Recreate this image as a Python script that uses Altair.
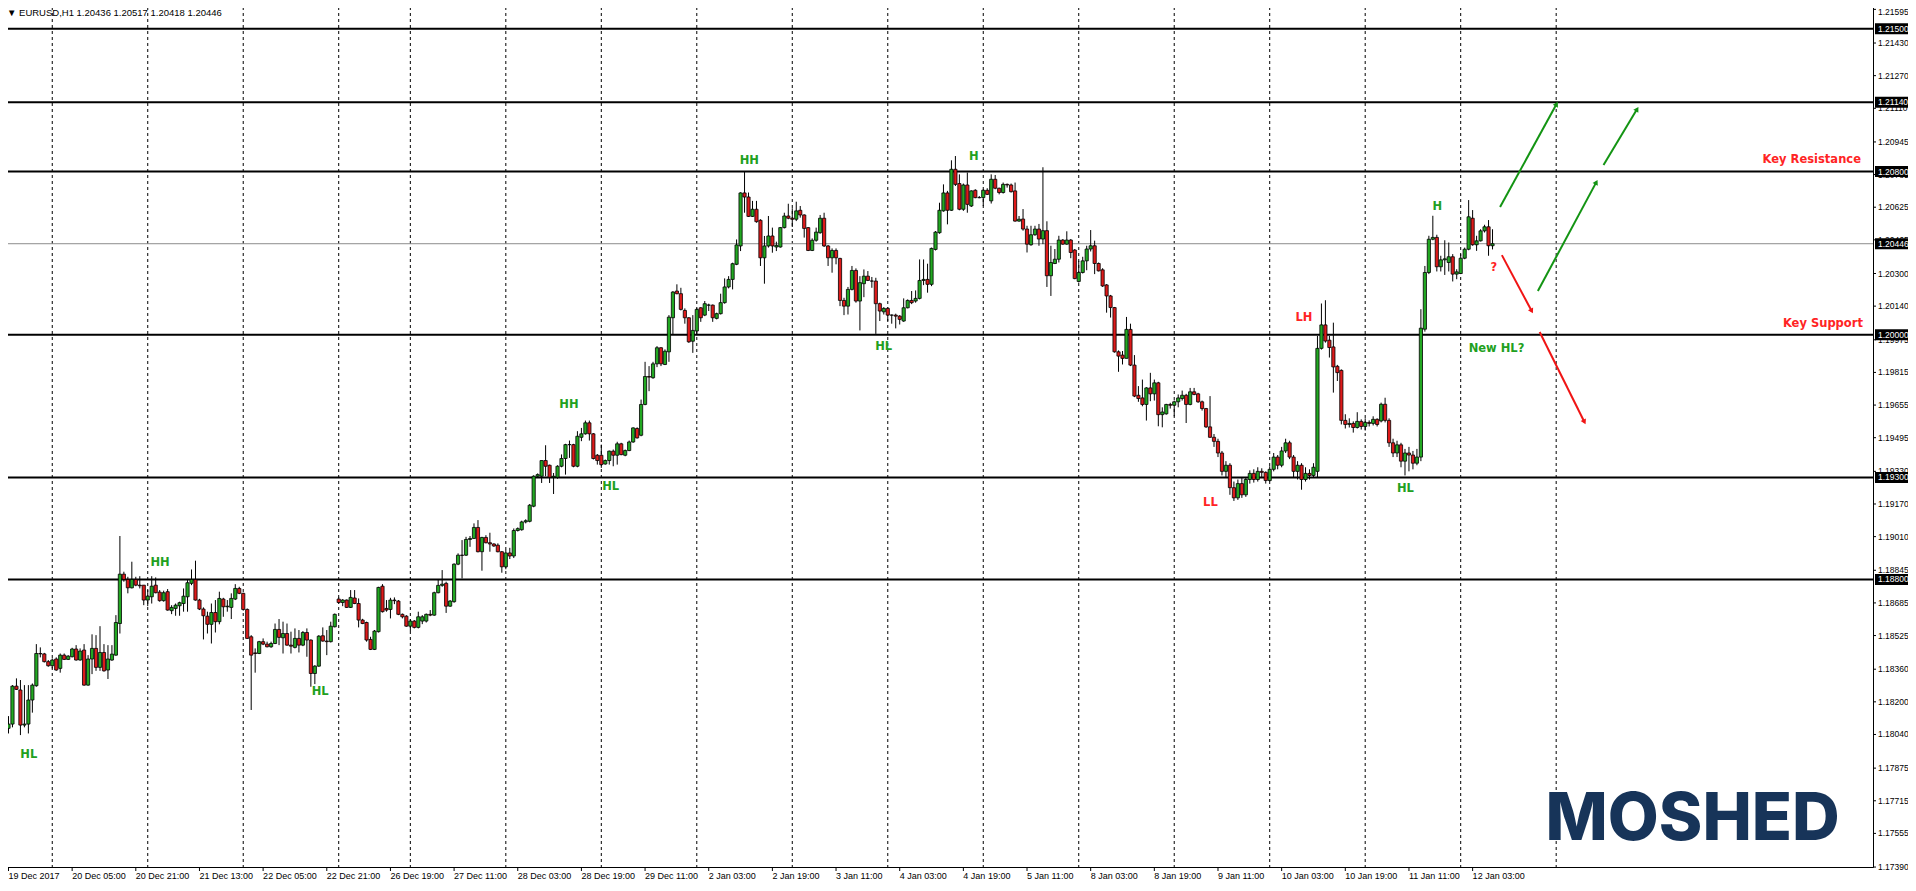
import altair as alt
import pandas as pd

# ---- OHLC data, in points (1e-5) above 1.10000, one entry per H1 bar ----
OPEN = [
 8070, 8091, 8277, 8258, 8086, 8091, 8209, 8279, 8437, 8435,
 8397, 8377, 8410, 8364, 8429, 8408, 8421, 8459, 8405, 8454,
 8282, 8410, 8462, 8369, 8442, 8356, 8405, 8429, 8584, 8826,
 8800, 8759, 8800, 8772, 8772, 8699, 8715, 8772, 8738, 8696,
 8740, 8647, 8658, 8671, 8682, 8715, 8781, 8800, 8699, 8655,
 8620, 8580, 8638, 8593, 8704, 8666, 8663, 8704, 8756, 8732,
 8653, 8519, 8440, 8437, 8495, 8483, 8470, 8486, 8555, 8514,
 8535, 8478, 8467, 8511, 8478, 8540, 8503, 8339, 8375, 8524,
 8498, 8495, 8568, 8704, 8687, 8699, 8663, 8709, 8682, 8601,
 8589, 8506, 8457, 8544, 8767, 8658, 8653, 8699, 8694, 8629,
 8620, 8571, 8596, 8565, 8596, 8596, 8629, 8625, 8735, 8771,
 8781, 8669, 8691, 8875, 8919, 8919, 8996, 9001, 9055, 8936,
 9006, 8980, 8974, 8968, 8936, 8862, 8930, 8915, 9040, 9044,
 9082, 9085, 9159, 9306, 9306, 9383, 9360, 9301, 9301, 9355,
 9393, 9461, 9461, 9355, 9497, 9514, 9568, 9514, 9409, 9409,
 9366, 9383, 9429, 9409, 9465, 9409, 9432, 9474, 9540, 9507,
 9658, 9795, 9789, 9857, 9936, 9854, 9916, 10083, 10214, 10201,
 10119, 10083, 9968, 10018, 10132, 10096, 10145, 10145, 10080, 10103,
 10157, 10234, 10271, 10345, 10435, 10695, 10675, 10580, 10615, 10561,
 10377, 10435, 10484, 10430, 10430, 10525, 10582, 10571, 10566, 10610,
 10587, 10525, 10413, 10463, 10500, 10571, 10435, 10377, 10413, 10374,
 10168, 10140, 10222, 10315, 10165, 10250, 10287, 10263, 10263, 10152,
 10112, 10129, 10096, 10096, 10091, 10067, 10132, 10168, 10165, 10178,
 10266, 10271, 10247, 10418, 10500, 10607, 10695, 10610, 10811, 10741,
 10615, 10734, 10631, 10708, 10672, 10672, 10708, 10656, 10762, 10718,
 10697, 10737, 10734, 10705, 10557, 10567, 10518, 10441, 10490, 10518,
 10469, 10510, 10289, 10349, 10370, 10464, 10444, 10464, 10415, 10261,
 10305, 10362, 10420, 10436, 10349, 10318, 10244, 10190, 10133, 9916,
 9900, 9884, 10026, 9851, 9703, 9690, 9658, 9739, 9710, 9764,
 9608, 9612, 9658, 9654, 9671, 9687, 9703, 9658, 9720, 9710,
 9671, 9638, 9548, 9497, 9477, 9420, 9330, 9360, 9250, 9200,
 9270, 9215, 9290, 9320, 9290, 9330, 9325, 9285, 9340, 9400,
 9360, 9430, 9470, 9400, 9330, 9360, 9290, 9320, 9310, 9330,
 9933, 10048, 9973, 9940, 9845, 9825, 9580, 9560, 9565, 9545,
 9575, 9550, 9570, 9565, 9585, 9577, 9659, 9580, 9470, 9420,
 9460, 9380, 9420, 9410, 9370, 9400, 10027, 10305, 10468, 10477,
 10333, 10367, 10354, 10382, 10297, 10300, 10375, 10419, 10571, 10441,
 10460, 10509, 10529, 10436,
]
HIGH = [
 8130, 8282, 8315, 8307, 8282, 8282, 8290, 8483, 8467, 8440,
 8405, 8413, 8418, 8437, 8437, 8429, 8465, 8478, 8462, 8483,
 8429, 8531, 8527, 8571, 8483, 8478, 8478, 8625, 9013, 8838,
 8813, 8887, 8813, 8816, 8772, 8748, 8816, 8810, 8748, 8745,
 8753, 8674, 8682, 8691, 8756, 8797, 8849, 8892, 8705, 8663,
 8642, 8682, 8699, 8740, 8710, 8699, 8732, 8777, 8764, 8735,
 8658, 8527, 8462, 8499, 8511, 8495, 8495, 8584, 8606, 8593,
 8584, 8544, 8560, 8552, 8547, 8560, 8506, 8380, 8527, 8565,
 8552, 8593, 8633, 8712, 8704, 8702, 8748, 8748, 8707, 8607,
 8593, 8519, 8552, 8764, 8777, 8699, 8710, 8712, 8699, 8633,
 8625, 8606, 8601, 8642, 8625, 8633, 8650, 8740, 8800, 8846,
 8789, 8699, 8879, 8928, 8993, 9009, 9013, 9075, 9091, 9009,
 9017, 9029, 8977, 8977, 8939, 8945, 8955, 9050, 9055, 9088,
 9095, 9170, 9311, 9320, 9383, 9458, 9363, 9322, 9360, 9413,
 9465, 9481, 9465, 9527, 9543, 9579, 9579, 9518, 9415, 9461,
 9388, 9432, 9437, 9475, 9470, 9437, 9481, 9546, 9546, 9682,
 9867, 9846, 9867, 9944, 9939, 9928, 10096, 10214, 10247, 10230,
 10129, 10086, 10096, 10132, 10135, 10165, 10152, 10148, 10108, 10201,
 10276, 10287, 10353, 10467, 10698, 10800, 10697, 10656, 10656, 10566,
 10484, 10582, 10525, 10456, 10528, 10598, 10642, 10620, 10652, 10631,
 10590, 10528, 10472, 10525, 10587, 10598, 10440, 10423, 10423, 10377,
 10181, 10234, 10337, 10325, 10287, 10320, 10312, 10283, 10279, 10157,
 10135, 10135, 10099, 10103, 10096, 10178, 10173, 10214, 10217, 10369,
 10369, 10348, 10427, 10508, 10647, 10737, 10705, 10855, 10876, 10786,
 10741, 10795, 10708, 10713, 10680, 10713, 10718, 10786, 10783, 10721,
 10746, 10741, 10741, 10746, 10582, 10616, 10534, 10534, 10534, 10543,
 10821, 10556, 10436, 10420, 10485, 10469, 10507, 10469, 10420, 10362,
 10382, 10436, 10513, 10461, 10354, 10326, 10248, 10195, 10136, 9923,
 9920, 10087, 10054, 9900, 9748, 9780, 9743, 9813, 9780, 9769,
 9644, 9661, 9666, 9677, 9707, 9726, 9710, 9739, 9739, 9715,
 9677, 9641, 9699, 9513, 9490, 9430, 9380, 9370, 9280, 9290,
 9300, 9300, 9335, 9340, 9350, 9345, 9330, 9355, 9420, 9410,
 9450, 9490, 9480, 9410, 9380, 9370, 9350, 9340, 9370, 9994,
 10153, 10169, 9994, 10059, 9852, 9830, 9610, 9590, 9575, 9620,
 9585, 9590, 9580, 9600, 9590, 9667, 9691, 9590, 9490, 9480,
 9470, 9440, 9450, 9430, 9440, 10125, 10337, 10485, 10583, 10490,
 10387, 10463, 10452, 10395, 10321, 10395, 10427, 10660, 10611, 10485,
 10517, 10539, 10562, 10517,
]
LOW = [
 8045, 8075, 8258, 8037, 8075, 8045, 8147, 8274, 8418, 8393,
 8372, 8364, 8352, 8343, 8405, 8405, 8418, 8402, 8402, 8279,
 8279, 8336, 8352, 8352, 8348, 8312, 8401, 8426, 8535, 8789,
 8732, 8756, 8767, 8756, 8674, 8669, 8682, 8732, 8691, 8691,
 8647, 8630, 8622, 8622, 8642, 8642, 8772, 8696, 8650, 8506,
 8535, 8486, 8540, 8580, 8617, 8642, 8606, 8699, 8728, 8647,
 8508, 8160, 8343, 8434, 8478, 8467, 8465, 8483, 8478, 8437,
 8475, 8437, 8462, 8442, 8473, 8421, 8274, 8287, 8372, 8495,
 8429, 8491, 8565, 8682, 8669, 8660, 8660, 8679, 8565, 8581,
 8495, 8454, 8454, 8540, 8638, 8642, 8609, 8679, 8625, 8609,
 8568, 8547, 8560, 8560, 8581, 8589, 8620, 8622, 8732, 8764,
 8636, 8666, 8686, 8870, 8805, 8915, 8960, 9000, 8933, 8843,
 8977, 8936, 8960, 8933, 8833, 8850, 8900, 8905, 9035, 9039,
 9075, 9080, 9154, 9300, 9273, 9306, 9273, 9219, 9294, 9350,
 9314, 9396, 9350, 9350, 9478, 9510, 9481, 9388, 9363, 9347,
 9363, 9363, 9355, 9363, 9409, 9404, 9429, 9470, 9491, 9502,
 9654, 9723, 9784, 9841, 9846, 9851, 9867, 10001, 10198, 10119,
 10054, 9960, 9911, 10001, 10063, 10091, 10116, 10063, 10075, 10099,
 10152, 10227, 10222, 10341, 10410, 10598, 10577, 10577, 10549, 10337,
 10250, 10427, 10402, 10410, 10427, 10521, 10566, 10528, 10557, 10574,
 10476, 10410, 10410, 10456, 10495, 10430, 10337, 10304, 10345, 10140,
 10096, 10099, 10217, 10157, 10021, 10184, 10263, 10230, 10004, 10067,
 10099, 10067, 10054, 10031, 10050, 10063, 10129, 10150, 10157, 10173,
 10243, 10206, 10238, 10413, 10495, 10603, 10541, 10607, 10729, 10610,
 10607, 10598, 10626, 10669, 10669, 10631, 10685, 10643, 10713, 10688,
 10692, 10721, 10697, 10554, 10554, 10510, 10403, 10436, 10485, 10436,
 10444, 10234, 10190, 10346, 10354, 10441, 10441, 10375, 10272, 10256,
 10300, 10316, 10408, 10297, 10310, 10234, 10108, 10084, 9912, 9818,
 9854, 9884, 9846, 9694, 9671, 9649, 9579, 9674, 9677, 9551,
 9546, 9608, 9638, 9600, 9644, 9677, 9567, 9654, 9703, 9666,
 9628, 9543, 9494, 9450, 9400, 9310, 9300, 9215, 9185, 9190,
 9200, 9205, 9270, 9275, 9280, 9300, 9270, 9280, 9330, 9340,
 9350, 9420, 9390, 9300, 9290, 9240, 9280, 9290, 9300, 9300,
 9927, 9961, 9888, 9716, 9773, 9560, 9540, 9545, 9520, 9540,
 9535, 9530, 9550, 9555, 9550, 9570, 9570, 9450, 9400, 9400,
 9350, 9310, 9330, 9340, 9360, 9380, 10015, 10297, 10463, 10310,
 10310, 10293, 10310, 10261, 10272, 10297, 10370, 10414, 10436, 10411,
 10457, 10501, 10387, 10418,
]
CLOSE = [
 8091, 8277, 8261, 8086, 8091, 8209, 8282, 8437, 8435, 8397,
 8377, 8405, 8356, 8429, 8408, 8424, 8459, 8405, 8449, 8282,
 8410, 8462, 8369, 8442, 8352, 8410, 8434, 8589, 8826, 8800,
 8759, 8800, 8772, 8769, 8699, 8718, 8767, 8735, 8696, 8735,
 8650, 8663, 8674, 8686, 8718, 8784, 8800, 8699, 8655, 8622,
 8580, 8638, 8593, 8707, 8666, 8669, 8707, 8756, 8732, 8653,
 8511, 8429, 8437, 8495, 8483, 8470, 8486, 8555, 8516, 8535,
 8478, 8473, 8511, 8478, 8540, 8503, 8339, 8375, 8522, 8498,
 8495, 8571, 8629, 8687, 8699, 8663, 8712, 8682, 8601, 8584,
 8503, 8457, 8547, 8761, 8642, 8650, 8699, 8696, 8629, 8617,
 8571, 8596, 8565, 8617, 8617, 8629, 8625, 8735, 8771, 8777,
 8669, 8694, 8875, 8919, 8918, 8996, 9001, 9055, 8936, 9006,
 8980, 8974, 8964, 8936, 8862, 8930, 8915, 9040, 9049, 9082,
 9088, 9164, 9306, 9314, 9383, 9355, 9301, 9306, 9355, 9393,
 9461, 9461, 9355, 9502, 9514, 9568, 9514, 9393, 9383, 9363,
 9383, 9429, 9409, 9465, 9412, 9432, 9474, 9543, 9494, 9658,
 9795, 9792, 9857, 9936, 9857, 9919, 10086, 10209, 10201, 10124,
 10083, 9965, 10021, 10124, 10083, 10152, 10145, 10083, 10103, 10157,
 10234, 10271, 10348, 10440, 10695, 10675, 10580, 10615, 10554, 10377,
 10435, 10484, 10435, 10438, 10525, 10582, 10571, 10566, 10607, 10587,
 10521, 10413, 10463, 10503, 10571, 10435, 10377, 10413, 10377, 10168,
 10140, 10222, 10315, 10165, 10255, 10287, 10266, 10263, 10152, 10116,
 10129, 10096, 10096, 10091, 10075, 10132, 10168, 10157, 10178, 10266,
 10271, 10247, 10423, 10503, 10610, 10695, 10610, 10811, 10737, 10615,
 10734, 10639, 10705, 10672, 10672, 10708, 10688, 10762, 10718, 10697,
 10737, 10734, 10701, 10557, 10566, 10518, 10444, 10490, 10518, 10469,
 10510, 10289, 10354, 10370, 10464, 10444, 10464, 10403, 10275, 10305,
 10362, 10420, 10436, 10349, 10313, 10239, 10190, 10133, 9916, 9895,
 9884, 10026, 9851, 9699, 9687, 9658, 9739, 9710, 9764, 9608,
 9621, 9658, 9654, 9671, 9690, 9703, 9658, 9720, 9707, 9671,
 9638, 9548, 9497, 9477, 9420, 9330, 9360, 9250, 9200, 9270,
 9215, 9290, 9320, 9290, 9330, 9325, 9285, 9340, 9400, 9360,
 9430, 9470, 9400, 9330, 9360, 9290, 9320, 9310, 9350, 9933,
 10048, 9969, 9937, 9842, 9814, 9580, 9560, 9565, 9545, 9575,
 9550, 9570, 9565, 9585, 9560, 9659, 9580, 9470, 9420, 9460,
 9380, 9420, 9410, 9370, 9400, 10032, 10305, 10468, 10477, 10333,
 10367, 10372, 10382, 10297, 10308, 10375, 10419, 10578, 10441, 10460,
 10509, 10529, 10436, 10446,
]

# ---- axes / annotations ----
X_LABELS = ["19 Dec 2017", "20 Dec 05:00", "20 Dec 21:00", "21 Dec 13:00", "22 Dec 05:00",
            "22 Dec 21:00", "26 Dec 19:00", "27 Dec 11:00", "28 Dec 03:00", "28 Dec 19:00",
            "29 Dec 11:00", "2 Jan 03:00", "2 Jan 19:00", "3 Jan 11:00", "4 Jan 03:00",
            "4 Jan 19:00", "5 Jan 11:00", "8 Jan 03:00", "8 Jan 19:00", "9 Jan 11:00",
            "10 Jan 03:00", "10 Jan 19:00", "11 Jan 11:00", "12 Jan 03:00"]
X_TICK_BARS = [0, 16, 32, 48, 64, 80, 96, 112, 128, 144, 160, 176, 192, 208, 224, 240,
               256, 272, 288, 304, 320, 336, 352, 368]
DAY_SEPARATORS = [11, 35, 59, 83, 101, 125, 149, 173, 197, 221, 245, 269, 293, 317, 341, 365, 389]
Y_TOP_TICK = 1.21595
Y_TICKS = [1.21430, 1.21270, 1.21110, 1.20945, 1.20785, 1.20625, 1.20465, 1.20300,
           1.20140, 1.19975, 1.19815, 1.19655, 1.19495, 1.19330, 1.19170, 1.19010, 1.18845,
           1.18685, 1.18525, 1.18360, 1.18200, 1.18040, 1.17875, 1.17715, 1.17555, 1.17390]
LEVELS = [1.21500, 1.21140, 1.20800, 1.20000, 1.19300, 1.18800]
LAST_PRICE = 1.20446
HIGHLIGHTS = [1.21500, 1.21140, 1.20800, 1.20446, 1.20000, 1.19300, 1.18800]

GREEN_TXT = "#21a021"
RED_TXT = "#ff2424"
LABEL_TEXT = ["HL", "HH", "HL", "HH", "HL", "HH", "HL", "H", "LL", "LH", "HL", "H", "?", "New HL?"]
LABEL_BAR = [5.1, 38.1, 78.35, 140.85, 151.35, 186.2, 219.97, 242.6, 302.1, 325.6, 351.1, 359.1,
             373.35, 374.0]
LABEL_PRICE = [1.17939, 1.18880, 1.18248, 1.19655, 1.19253, 1.20854, 1.19939, 1.20873,
               1.19175, 1.20082, 1.19243, 1.20626, 1.20327, 1.19930]
LABEL_COLOR = [GREEN_TXT] * 8 + [RED_TXT, RED_TXT, GREEN_TXT, GREEN_TXT, RED_TXT, GREEN_TXT]

KEY_TEXT = ["Key Resistance", "Key Support"]
KEY_BAR = [465.6, 466.1]
KEY_PRICE = [1.20856, 1.20052]

ARROW_BAR1 = [374.9, 384.4, 400.9, 375.35, 384.85]
ARROW_P1 = [1.20626, 1.20214, 1.20832, 1.20390, 1.20013]
ARROW_BAR2 = [389.1, 399.1, 409.35, 382.85, 396.1]
ARROW_P2 = [1.21131, 1.20748, 1.21106, 1.20116, 1.19572]
ARROW_ANGLE = [29, 28, 31, 152, 153]
ARROW_COLOR = ["#139413", "#139413", "#139413", "#f01414", "#f01414"]

TITLE = "\u25bc EURUSD,H1  1.20436 1.20517 1.20418 1.20446"

# ---- frames ----
df = pd.DataFrame({
    "i": list(range(len(OPEN))),
    "o": [1.1 + v / 1e5 for v in OPEN],
    "h": [1.1 + v / 1e5 for v in HIGH],
    "l": [1.1 + v / 1e5 for v in LOW],
    "c": [1.1 + v / 1e5 for v in CLOSE],
})
df["col"] = ["#22a822" if c >= o else "#dd1a1a" for o, c in zip(df["o"], df["c"])]

sep_df = pd.DataFrame({"i": DAY_SEPARATORS})
lev_df = pd.DataFrame({"p": LEVELS})
last_df = pd.DataFrame({"p": [LAST_PRICE]})
hl_df = pd.DataFrame({"p": HIGHLIGHTS, "txt": [f"{v:.5f}" for v in HIGHLIGHTS]})
hl_df["hi"] = hl_df["p"] + 0.00027
hl_df["lo"] = hl_df["p"] - 0.00027
yt_df = pd.DataFrame({"p": [Y_TOP_TICK] + Y_TICKS,
                      "txt": [f"{v:.5f}" for v in [Y_TOP_TICK] + Y_TICKS]})
yt_main = pd.DataFrame({"p": Y_TICKS, "txt": [f"{v:.5f}" for v in Y_TICKS]})
yt_top = pd.DataFrame({"p": [Y_TOP_TICK], "txt": [f"{Y_TOP_TICK:.5f}"]})
xt_df = pd.DataFrame({"i": X_TICK_BARS, "txt": X_LABELS})
lab_df = pd.DataFrame({"i": LABEL_BAR, "p": LABEL_PRICE, "t": LABEL_TEXT, "col": LABEL_COLOR})
key_df = pd.DataFrame({"i": KEY_BAR, "p": KEY_PRICE, "t": KEY_TEXT})
arr_df = pd.DataFrame({"i1": ARROW_BAR1, "p1": ARROW_P1, "i2": ARROW_BAR2, "p2": ARROW_P2,
                       "ang": ARROW_ANGLE, "col": ARROW_COLOR})
logo_df = pd.DataFrame({"i": [423.3], "p": [1.17620], "t": ["MOSHED"]})
title_df = pd.DataFrame({"t": [TITLE]})

W, H = 1871, 866
xs = alt.Scale(domain=[-0.375, -0.375 + W / 4], nice=False, zero=False)
ys = alt.Scale(domain=[1.21636 - H / 20397, 1.21636], nice=False, zero=False)
FONT = "Liberation Sans"
AX_FS = 8.5


def X(f):
    return alt.X(f, type="quantitative", scale=xs, axis=None)


def Y(f):
    return alt.Y(f, type="quantitative", scale=ys, axis=None)


sep = alt.Chart(sep_df).mark_rule(color="black", strokeDash=[3, 3], strokeWidth=1).encode(x=X("i"))
levels = alt.Chart(lev_df).mark_rule(color="black", strokeWidth=2).encode(y=Y("p"))
last = alt.Chart(last_df).mark_rule(color="#8c8c8c", strokeWidth=1).encode(y=Y("p"))
wicks = alt.Chart(df).mark_rule(color="black", strokeWidth=1).encode(
    x=X("i"), y=Y("l"), y2="h:Q")
bodies = alt.Chart(df).mark_bar(size=3.2, stroke="black", strokeWidth=0.8).encode(
    x=X("i"), y=Y("o"), y2="c:Q", color=alt.Color("col:N", scale=None))

# axis ticks and labels (right price axis, bottom time axis)
ytick = alt.Chart(yt_df).mark_rule(color="black", strokeWidth=1).encode(
    x=alt.value(W), x2=alt.value(W + 3), y=Y("p"))
ylab = alt.Chart(yt_main).mark_text(align="left", baseline="middle", font=FONT, fontSize=AX_FS,
                                    color="black").encode(
    x=alt.value(W + 5), y=Y("p"), text="txt:N")
ylab_top = alt.Chart(yt_top).mark_text(align="left", baseline="middle", font=FONT, fontSize=AX_FS,
                                       color="black", dy=3).encode(
    x=alt.value(W + 5), y=Y("p"), text="txt:N")
xtick = alt.Chart(xt_df).mark_rule(color="black", strokeWidth=1).encode(
    x=X("i"), y=alt.value(H), y2=alt.value(H + 4))
xlab = alt.Chart(xt_df).mark_text(align="left", baseline="top", font=FONT, fontSize=9,
                                  color="black").encode(
    x=X("i"), y=alt.value(H + 5), text="txt:N")

labels = alt.Chart(lab_df).mark_text(font="DejaVu Sans", fontWeight="bold", fontSize=11.5,
                                     align="center", baseline="middle").encode(
    x=X("i"), y=Y("p"), text="t:N", color=alt.Color("col:N", scale=None))
keys = alt.Chart(key_df).mark_text(font="DejaVu Sans", fontWeight="bold", fontSize=11.5,
                                   align="right", baseline="middle", color=RED_TXT).encode(
    x=X("i"), y=Y("p"), text="t:N")
arrows = alt.Chart(arr_df).mark_rule(strokeWidth=2).encode(
    x=X("i1"), y=Y("p1"), x2="i2:Q", y2="p2:Q", color=alt.Color("col:N", scale=None))
heads = alt.Chart(arr_df).mark_point(shape="triangle-up", filled=True, size=34, opacity=1).encode(
    x=X("i2"), y=Y("p2"), angle=alt.Angle("ang:Q", scale=None),
    color=alt.Color("col:N", scale=None))
hl_box = alt.Chart(hl_df).mark_rect(color="black").encode(
    x=alt.value(W + 2), x2=alt.value(W + 40), y=Y("hi"), y2="lo:Q")
hl_txt = alt.Chart(hl_df).mark_text(align="left", baseline="middle", font=FONT, fontSize=AX_FS,
                                    color="white").encode(
    x=alt.value(W + 5), y=Y("p"), text="txt:N")
logo = alt.Chart(logo_df).mark_text(font="Inter", fontWeight=800, fontSize=66, color="#173459",
                                    align="center", baseline="middle").encode(
    x=X("i"), y=Y("p"), text="t:N")
title = alt.Chart(title_df).mark_text(align="left", baseline="middle", font=FONT, fontSize=9.5,
                                      color="black").encode(
    x=alt.value(5), y=alt.value(12), text="t:N")

chart = alt.layer(
    sep, levels, last, wicks, bodies, ytick, ylab, ylab_top, xtick, xlab,
    labels, keys, arrows, heads, hl_box, hl_txt, logo, title
).properties(
    width=W, height=H,
    padding={"left": -6, "top": -7, "right": 35, "bottom": 14},
    autosize=alt.AutoSizeParams(type="none"),
    background="white",
).configure_view(stroke="black", strokeWidth=1)

chart.save("out.html", embed_options={"renderer": "svg", "actions": False})
